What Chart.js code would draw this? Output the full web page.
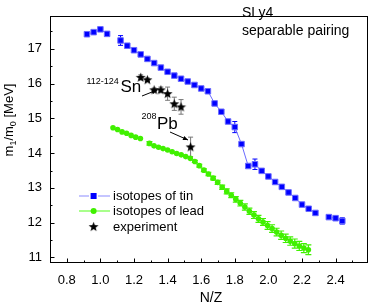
<!DOCTYPE html>
<html><head><meta charset="utf-8">
<script src="https://cdn.jsdelivr.net/npm/chart.js@4"></script>
<style>html,body{margin:0;padding:0;background:#fff}</style>
</head><body>
<canvas id="c" width="374" height="304"></canvas>
<script>
const xTicks = [0.8,1.0,1.2,1.4,1.6,1.8,2.0,2.2,2.4];
const xMinor = [0.9,1.1,1.3,1.5,1.7,1.9,2.1,2.3,2.5];
const yTicks = [11,12,13,14,15,16,17];
const yMinor = [11.5,12.5,13.5,14.5,15.5,16.5,17.5];

const tinNZ = [0.92,0.96,1.00,1.04,1.08,1.12,1.16,1.20,1.24,1.28,1.32,1.36,1.40,1.44,1.48,1.52,1.56,1.60,1.64,1.68,1.72,1.76,1.80,1.84,1.88,1.92,1.96,2.00,2.04,2.08,2.12,2.16,2.20,2.24,2.28,2.32,2.36,2.40,2.44];
const tinM = [17.42,17.48,17.56,17.43,null,17.24,17.09,16.96,16.84,16.71,16.59,16.46,16.34,16.23,16.14,16.06,15.96,15.86,15.78,15.43,15.19,14.91,14.75,14.26,13.63,13.68,13.49,13.33,13.17,13.03,12.87,12.71,12.52,12.40,12.28,null,12.16,12.13,12.05];
const tinErr = [0,0,0,0,0,0.14,0,0,0,0,0,0,0,0,0,0,0,0,0,0,0,0,0.16,0,0,0.15,0,0,0,0,0,0,0,0,0,0,0.05,0.07,0.09];

const leadNZ = [1.075,1.102,1.129,1.156,1.183,1.210,1.238,1.265,1.292,1.319,1.346,1.373,1.400,1.427,1.454,1.481,1.508,1.535,1.562,1.589,1.616,1.643,1.671,1.698,1.725,1.752,1.779,1.806,1.833,1.860,1.887,1.914,1.941,1.968,1.995,2.022,2.049,2.076,2.103,2.130,2.157,2.184,2.211,2.238];
const leadM = [14.73,14.68,14.61,14.57,14.51,14.46,14.42,null,14.28,14.21,14.17,14.13,14.09,14.04,13.99,13.95,13.90,13.85,13.76,13.64,13.51,13.40,13.28,13.16,13.02,12.90,12.79,12.67,12.56,12.45,12.33,12.22,12.11,12.02,11.92,11.83,11.73,11.64,11.55,11.47,11.40,11.33,11.27,11.22];
const leadErr = [0,0,0,0,0,0,0,0,0.05,0,0,0,0,0,0,0,0,0,0.03,0.04,0.04,0.05,0.05,0.06,0.06,0.07,0.07,0.08,0.08,0.09,0.09,0.10,0.10,0.10,0.11,0.11,0.11,0.12,0.12,0.12,0.13,0.13,0.13,0.14];

const expNZ = [1.24,1.28,1.32,1.36,1.40,1.44,1.48,1.537];
const expM = [16.18,16.11,15.82,15.82,15.71,15.42,15.33,14.18];
const expErr = [0.07,0.05,0.05,0.08,0.19,0.19,0.21,0.28];

const FONT = "'Liberation Sans', Arial, sans-serif";
const BLUE = '#0000ff', BLUE_LINE = '#6a6aff', GREEN = '#40f000', GREEN_LINE = '#70ff40';

function starPath(ctx, cx, cy, R, r) {
  ctx.beginPath();
  for (let i = 0; i < 10; i++) {
    const rad = i % 2 ? r : R;
    const a = -Math.PI / 2 + i * Math.PI / 5;
    const px = cx + rad * Math.cos(a), py = cy + rad * Math.sin(a);
    i ? ctx.lineTo(px, py) : ctx.moveTo(px, py);
  }
  ctx.closePath();
}
const starImg = document.createElement('canvas');
starImg.width = 11; starImg.height = 11;
{ const s = starImg.getContext('2d'); starPath(s, 5.5, 5.9, 5.2, 2.2); s.fillStyle = '#000'; s.fill(); }

const toPts = (xs, ys) => xs.map((x, i) => ({x: x, y: ys[i] === null ? null : ys[i]}));

function errBars(ctx, chart, xs, ys, es, color, cap, lw) {
  const sx = chart.scales.x, sy = chart.scales.y;
  ctx.save(); ctx.strokeStyle = color; ctx.lineWidth = lw;
  xs.forEach((x, i) => {
    if (ys[i] === null || !es[i]) return;
    const px = sx.getPixelForValue(x);
    const p1 = sy.getPixelForValue(ys[i] + es[i]);
    const p2 = sy.getPixelForValue(ys[i] - es[i]);
    ctx.beginPath();
    ctx.moveTo(px, p1); ctx.lineTo(px, p2);
    ctx.moveTo(px - cap, p1); ctx.lineTo(px + cap, p1);
    ctx.moveTo(px - cap, p2); ctx.lineTo(px + cap, p2);
    ctx.stroke();
  });
  ctx.restore();
}

function arrow(ctx, x1, y1, x2, y2) {
  ctx.save(); ctx.strokeStyle = '#000'; ctx.fillStyle = '#000'; ctx.lineWidth = 1;
  ctx.beginPath(); ctx.moveTo(x1, y1); ctx.lineTo(x2, y2); ctx.stroke();
  const a = Math.atan2(y2 - y1, x2 - x1), L = 5, W = 2.2;
  ctx.beginPath();
  ctx.moveTo(x2, y2);
  ctx.lineTo(x2 - L * Math.cos(a) + W * Math.sin(a), y2 - L * Math.sin(a) - W * Math.cos(a));
  ctx.lineTo(x2 - L * Math.cos(a) - W * Math.sin(a), y2 - L * Math.sin(a) + W * Math.cos(a));
  ctx.closePath(); ctx.fill();
  ctx.restore();
}

const overlay = {
  id: 'overlay',
  beforeDatasetsDraw(chart) {
    const ctx = chart.ctx;
    errBars(ctx, chart, leadNZ, leadM, leadErr, GREEN, 3, 1.2);
    errBars(ctx, chart, tinNZ, tinM, tinErr, BLUE, 2.5, 1);
    errBars(ctx, chart, expNZ, expM, expErr, '#777777', 2.5, 1);
  },
  afterDraw(chart) {
    const ctx = chart.ctx, a = chart.chartArea, sx = chart.scales.x, sy = chart.scales.y;
    ctx.save();
    ctx.strokeStyle = '#000'; ctx.lineWidth = 1;
    ctx.strokeRect(Math.round(a.left) + 0.5, Math.round(a.top) + 0.5, Math.round(a.right - a.left) - 1, Math.round(a.bottom - a.top) - 1);
    const B = Math.round(a.bottom) - 0.5, Lx = Math.round(a.left) + 0.5;
    ctx.beginPath();
    xTicks.forEach(v => { const p = Math.round(sx.getPixelForValue(v)) + 0.5; ctx.moveTo(p, B); ctx.lineTo(p, B - 4); });
    xMinor.forEach(v => { const p = Math.round(sx.getPixelForValue(v)) + 0.5; ctx.moveTo(p, B); ctx.lineTo(p, B - 2); });
    yTicks.forEach(v => { const p = Math.round(sy.getPixelForValue(v)) + 0.5; ctx.moveTo(Lx, p); ctx.lineTo(Lx + 4, p); });
    yMinor.forEach(v => { const p = Math.round(sy.getPixelForValue(v)) + 0.5; ctx.moveTo(Lx, p); ctx.lineTo(Lx + 2, p); });
    ctx.stroke();

    // legend
    ctx.fillStyle = '#000'; ctx.font = '13px ' + FONT; ctx.textBaseline = 'middle'; ctx.textAlign = 'left';
    const rows = [196, 211, 227];
    ctx.strokeStyle = '#8c8cff'; ctx.lineWidth = 1.2;
    ctx.beginPath(); ctx.moveTo(79, rows[0]); ctx.lineTo(89, rows[0]); ctx.moveTo(98, rows[0]); ctx.lineTo(110, rows[0]); ctx.stroke();
    ctx.fillStyle = BLUE; ctx.fillRect(90.6, rows[0] - 3, 6, 6);
    ctx.strokeStyle = GREEN_LINE;
    ctx.beginPath(); ctx.moveTo(79, rows[1]); ctx.lineTo(110, rows[1]); ctx.stroke();
    ctx.fillStyle = GREEN; ctx.beginPath(); ctx.arc(93.6, rows[1], 3, 0, Math.PI * 2); ctx.fill();
    ctx.drawImage(starImg, 88.1, rows[2] - 5.9);
    ctx.fillStyle = '#000';
    ctx.fillText('isotopes of tin', 113, rows[0]);
    ctx.fillText('isotopes of lead', 113, rows[1]);
    ctx.fillText('experiment', 113, rows[2]);

    // annotations
    ctx.textBaseline = 'alphabetic';
    ctx.font = '14px ' + FONT;
    ctx.fillText('SLy4', 242, 17);
    ctx.fillText('separable pairing', 242, 34.5);
    ctx.font = '9px ' + FONT; ctx.fillText('112-124', 86.5, 83.5);
    ctx.font = '17px ' + FONT; ctx.fillText('Sn', 120.5, 92);
    ctx.font = '9px ' + FONT; ctx.fillText('208', 141.5, 118.5);
    ctx.font = '17px ' + FONT; ctx.fillText('Pb', 157, 128.5);
    arrow(ctx, 142, 96, 157, 90);
    arrow(ctx, 170, 132, 188, 140);

    ctx.font = '14px ' + FONT; ctx.textAlign = 'center';
    ctx.fillText('N/Z', 211, 301.5);

    ctx.save();
    ctx.translate(12.5, 120); ctx.rotate(-Math.PI / 2);
    const parts = [['m', 13, 0], ['1', 9, 3], ['/m', 13, 0], ['0', 9, 3], [' [MeV]', 13, 0]];
    let w = 0;
    parts.forEach(p => { ctx.font = p[1] + 'px ' + FONT; w += ctx.measureText(p[0]).width; });
    let cx = -w / 2;
    ctx.textAlign = 'left';
    parts.forEach(p => { ctx.font = p[1] + 'px ' + FONT; ctx.fillText(p[0], cx, p[2]); cx += ctx.measureText(p[0]).width; });
    ctx.restore();
    ctx.restore();
  }
};

new Chart(document.getElementById('c'), {
  type: 'scatter',
  data: {
    datasets: [
      { label: 'experiment', data: toPts(expNZ, expM), showLine: false, pointStyle: starImg, pointRadius: 5.5, order: 0 },
      { label: 'isotopes of tin', data: toPts(tinNZ, tinM), showLine: true, spanGaps: false, borderColor: BLUE_LINE, borderWidth: 1,
        pointStyle: 'rect', pointRadius: 3.9, pointBackgroundColor: BLUE, pointBorderColor: '#6a6aff', pointBorderWidth: 1, order: 1 },
      { label: 'isotopes of lead', data: toPts(leadNZ, leadM), showLine: true, spanGaps: false, borderColor: GREEN_LINE, borderWidth: 1,
        pointStyle: 'circle', pointRadius: 2.8, pointBackgroundColor: GREEN, pointBorderColor: GREEN, pointBorderWidth: 0, order: 2 }
    ]
  },
  options: {
    responsive: false, animation: false, devicePixelRatio: 1,
    layout: { padding: { top: 3, right: 3, left: 0, bottom: 0 } },
    plugins: { legend: { display: false }, tooltip: { enabled: false } },
    scales: {
      x: {
        type: 'linear', min: 0.7, max: 2.59,
        afterBuildTicks: s => { s.ticks = xTicks.map(v => ({ value: v })); },
        afterFit: s => { s.height = 41; },
        grid: { display: false, drawTicks: false }, border: { display: false },
        ticks: { color: '#000', font: { family: FONT, size: 13 }, padding: 10, maxRotation: 0, autoSkip: false, callback: v => Number(v).toFixed(1) }
      },
      y: {
        type: 'linear', min: 10.84, max: 17.95,
        afterBuildTicks: s => { s.ticks = yTicks.map(v => ({ value: v })); },
        afterFit: s => { s.width = 50; },
        grid: { display: false, drawTicks: false }, border: { display: false },
        ticks: { color: '#000', font: { family: FONT, size: 13 }, padding: 8, autoSkip: false, callback: v => String(v) }
      }
    }
  },
  plugins: [overlay]
});
</script>
</body></html>
